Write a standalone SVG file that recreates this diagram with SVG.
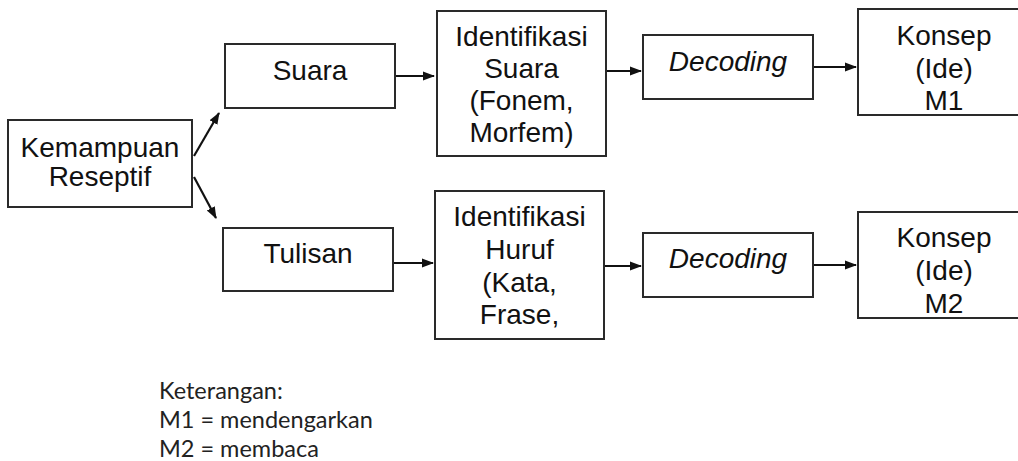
<svg xmlns="http://www.w3.org/2000/svg" width="1018" height="461" viewBox="0 0 1018 461">
<style>
.box{fill:#fff;stroke:#2a2a2a;stroke-width:2}
.t{font-family:"Liberation Sans",Arial,sans-serif;font-size:28px;fill:#111;text-anchor:middle}
.i{font-style:italic}
.c{stroke:#111;stroke-width:2.2;fill:none;marker-end:url(#ah)}
.leg{font-family:Lato,"Open Sans",sans-serif;font-size:23.5px;fill:#222}
</style>
<defs>
<marker id="ah" markerUnits="userSpaceOnUse" markerWidth="12" markerHeight="12" viewBox="0 0 12 12" refX="11" refY="6" orient="auto">
<path d="M0,1.5 L12,6 L0,10.5 Z" fill="#111"/>
</marker>
</defs>
<rect width="1018" height="461" fill="#fff"/>
<g id="connectors">
<line class="c" x1="194" y1="156" x2="219" y2="113"/>
<line class="c" x1="194" y1="177" x2="216" y2="218"/>
<line class="c" x1="395" y1="76" x2="434" y2="76"/>
<line class="c" x1="393" y1="263" x2="433" y2="263"/>
<line class="c" x1="606" y1="71" x2="641" y2="71"/>
<line class="c" x1="604" y1="266" x2="641" y2="266"/>
<line class="c" x1="813" y1="67" x2="856" y2="67"/>
<line class="c" x1="813" y1="265" x2="856" y2="265"/>
</g>
<g id="kemampuan">
<rect class="box" x="8" y="120" width="184" height="87"/>
<text class="t" x="100" y="157">Kemampuan</text>
<text class="t" x="100" y="186">Reseptif</text>
</g>
<g id="suara">
<rect class="box" x="225" y="44" width="170" height="64"/>
<text class="t" x="310" y="80">Suara</text>
</g>
<g id="tulisan">
<rect class="box" x="223" y="228" width="170" height="63"/>
<text class="t" x="308" y="263">Tulisan</text>
</g>
<g id="identifikasi-suara">
<rect class="box" x="437" y="11" width="169" height="145"/>
<text class="t" x="521.5" y="46">Identifikasi</text>
<text class="t" x="521.5" y="78">Suara</text>
<text class="t" x="521.5" y="110">(Fonem,</text>
<text class="t" x="521.5" y="142">Morfem)</text>
</g>
<g id="identifikasi-huruf">
<rect class="box" x="435" y="191" width="169" height="148"/>
<text class="t" x="519.5" y="226">Identifikasi</text>
<text class="t" x="519.5" y="259">Huruf</text>
<text class="t" x="519.5" y="292">(Kata,</text>
<text class="t" x="519.5" y="324">Frase,</text>
</g>
<g id="decoding-1">
<rect class="box" x="643" y="35" width="170" height="64"/>
<text class="t i" x="728" y="71">Decoding</text>
</g>
<g id="decoding-2">
<rect class="box" x="643" y="233" width="170" height="64"/>
<text class="t i" x="728" y="268">Decoding</text>
</g>
<g id="konsep-m1">
<rect class="box" x="858" y="9" width="172" height="106"/>
<text class="t" x="944" y="45">Konsep</text>
<text class="t" x="944" y="78">(Ide)</text>
<text class="t" x="944" y="110">M1</text>
</g>
<g id="konsep-m2">
<rect class="box" x="858" y="212" width="172" height="106"/>
<text class="t" x="944" y="247">Konsep</text>
<text class="t" x="944" y="280">(Ide)</text>
<text class="t" x="944" y="313">M2</text>
</g>
<g id="legend">
<text class="leg" x="159" y="399">Keterangan:</text>
<text class="leg" x="159" y="428">M1 = mendengarkan</text>
<text class="leg" x="159" y="457">M2 = membaca</text>
</g>
</svg>
